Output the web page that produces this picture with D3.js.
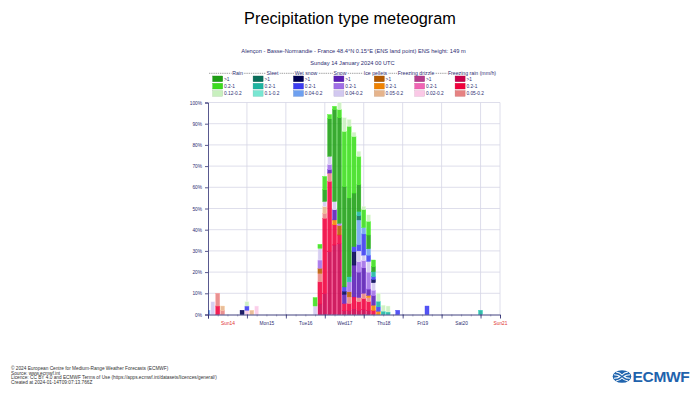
<!DOCTYPE html>
<html><head><meta charset="utf-8">
<script src="https://cdn.jsdelivr.net/npm/d3@7"></script>
<style>body{margin:0;background:#fff}svg{display:block}text{font-family:"Liberation Sans",Arial,sans-serif}</style>
</head><body><svg id="c" width="700" height="400"></svg>
<script>
// ---- data ----
const hours = [0,3,6,9,21,24,27,30,66,69,72,75,78,81,84,87,90,93,96,99,102,105,108,111,117,135,168];
const dayLabels = ["Sun14","Mon15","Tue16","Wed17","Thu18","Fri19","Sat20","Sun21"];
const yTicks = [0,10,20,30,40,50,60,70,80,90,100];
const typeNames = ["Rain","Sleet","Wet snow","Snow","Ice pellets","Freezing drizzle","Freezing rain (mm/h)"];
const classLabels = [[">1","0.2-1","0.12-0.2"],[">1","0.2-1","0.1-0.2"],[">1","0.2-1","0.04-0.2"],[">1","0.2-1","0.04-0.2"],[">1","0.2-1","0.05-0.2"],[">1","0.2-1","0.02-0.2"],[">1","0.2-1","0.05-0.2"]];
const typeColors = [
  ["#1e9e14","#3cdc1e","#c8f0be"],
  ["#0a6e5a","#1eb4a0","#78e6d2"],
  ["#000050","#3c3cf0","#6ea0f0"],
  ["#5a1eb4","#a06ee6","#d2c8f0"],
  ["#b45a00","#f08200","#e6b48c"],
  ["#b43c8c","#f064b4","#fac8e6"],
  ["#c8004b","#f0003c","#e68282"]
];
// probabilities (%) per class, aligned with hours
const frH = [0,0,0,0,0,0,0,0,0,5,10,29.6,32.8,33.6,2,2,2.8,2,2.5,2,0,0,0,0,0,0,0];
const frM = [0,0,4,0,0,0,0,0,0,10.4,35.4,33.2,9.5,3.9,3.2,3.2,5.5,4,5,4,2,0,0,0,0,0,0];
const frL = [0,0,6,2,0,0,0,0,0,4,2.4,3.9,0,0,0,3.1,0,2,2.5,2,0,0,0,0,0,0,0];
const fzH = [0,0,0,0,0,0,0,0,0,0,0,0,0,0,0,0,0,0,0,0,0,0,0,0,0,0,0];
const fzM = [0,0,0,0,0,0,0,0,0,0,0,0,0,0,0,0,0,0,0,0,0,0,0,0,0,0,0];
const fzL = [0,0,0,0,0,2,0,4,0,0,0,0,0,0,0,0,0,0,0,0,0,0,0,0,0,0,0];
const ipH = [0,0,0,0,0,0,0,0,0,2.4,0,0,0,4.5,0,2.4,0,0,0,0,0,0,0,0,0,0,0];
const ipM = [0,0,0,0,0,0,0,0,0,0,0,0,2.3,0,0,0,0,0,0,1,2.4,1.5,0,0,0,0,0];
const ipL = [0,0,0,2,0,0,2,0,0,0,3.1,0,0,0,0,0,0,0,0,0,0,0,0,0,0,0,0];
const snH = [0,0,0,0,0,0,0,0,0,0,0,1.6,4.8,0,4.3,0,15,12,12,3,4.6,0,0,0,0,0,0];
const snM = [0,0,0,0,0,0,0,0,0,3.9,0,2.4,0,1,0,4.7,0,5,3.5,8,2.5,0,0,0,0,0,0];
const snL = [0,6,0,0,0,0,0,0,4,5.5,2.4,3.9,3.9,0,0,0,0,5,2.5,5,3.5,0,0,0,0,0,0];
const wsH = [0,0,0,0,2,0,0,0,0,0,0,0,0,0,1.5,0,6.3,0,0,0,1.5,0,0,0,0,0,0];
const wsM = [0,0,0,0,0,2,0,0,0,0,0,0,0,0,2,0,2.4,3,10,3,1.3,2.1,0,0,2,4,0];
const wsL = [2,0,0,0,0,0,0,0,0,0,0,0,0,0,0,0,0,11.6,3,3,0,0,0,0,0,0,0];
const slH = [0,0,0,0,0,0,0,0,0,0,0,0,0,0,0,0,0,2,0,0,0,0,0,0,0,0,0];
const slM = [0,0,0,0,0,0,0,0,0,0,0,0,0,0,0,2.4,0,2,0,0,2.4,2.7,1.6,1.2,0,0,2];
const slL = [0,0,0,0,0,0,0,0,0,0,0,0,0,0,0,0,0,0,0,0,0,0,0,0,0,0,0];
const rnH = [0,0,0,0,0,0,0,0,0,0,5.5,17.7,43.4,49.8,47.4,37.2,25.3,12.6,0,6.5,2.3,0,0,0,0,0,0];
const rnM = [0,0,0,0,0,0,0,0,4,1.9,6.3,2,1.5,3.9,26,33.8,26.7,13.4,8.5,6.5,3.2,0,0,0,0,0,0];
const rnL = [0,0,0,0,0,2,0,0,0,0,0,0,0,3.3,6.4,3.2,2,2.4,1.5,3,0,3.7,2.8,2.8,0,0,0];

// stacking order bottom -> top
const seriesList = [
  ["frH",frH,6,0],["frM",frM,6,1],["frL",frL,6,2],
  ["fzH",fzH,5,0],["fzM",fzM,5,1],["fzL",fzL,5,2],
  ["ipH",ipH,4,0],["ipM",ipM,4,1],["ipL",ipL,4,2],
  ["snH",snH,3,0],["snM",snM,3,1],["snL",snL,3,2],
  ["wsH",wsH,2,0],["wsM",wsM,2,1],["wsL",wsL,2,2],
  ["slH",slH,1,0],["slM",slM,1,1],["slL",slL,1,2],
  ["rnH",rnH,0,0],["rnM",rnM,0,1],["rnL",rnL,0,2]
];
const keys = seriesList.map(s=>s[0]);
const colorOf = {}; seriesList.forEach(s=>colorOf[s[0]] = typeColors[s[2]][s[3]]);
const table = hours.map((h,i)=>{const o={h}; seriesList.forEach(s=>o[s[0]]=s[1][i]); return o;});

// ---- drawing ----
const navy = "#2e2e72";
const svg = d3.select("#c");
const x = d3.scaleLinear().domain([0,180]).range([208,500]);
const y = d3.scaleLinear().domain([0,100]).range([314.5,102.5]);

svg.append("text").attr("x",350).attr("y",24).attr("text-anchor","middle")
  .attr("font-size",16.3).attr("fill","#000").text("Precipitation type meteogram");
svg.append("text").attr("x",353.5).attr("y",53).attr("text-anchor","middle")
  .attr("font-size",5.7).attr("fill",navy)
  .text("Alençon - Basse-Normandie - France 48.4°N 0.15°E (ENS land point) ENS height: 149 m");
svg.append("text").attr("x",352.5).attr("y",65).attr("text-anchor","middle")
  .attr("font-size",5.7).attr("fill",navy).text("Sunday 14 January 2024 00 UTC");

// legend
const lg = svg.append("g");
typeNames.forEach((n,i)=>{
  const x0 = 212.7 + i*40.4;
  for(let r=0;r<3;r++){
    const y0 = 76 + r*7.3;
    lg.append("rect").attr("x",x0).attr("y",y0).attr("width",10).attr("height",5.7)
      .attr("fill",typeColors[i][r]).attr("stroke",d3.color(typeColors[i][r]).darker(0.4)).attr("stroke-width",0.4);
    lg.append("text").attr("x",x0+11.3).attr("y",y0+4.5).attr("font-size",4.8).attr("fill",navy).text(classLabels[i][r]);
  }
});
lg.append("line").attr("x1",209).attr("x2",497).attr("y1",73.3).attr("y2",73.3)
  .attr("stroke","#444").attr("stroke-width",0.5).attr("stroke-dasharray","1.4,0.8");
const headerCx = [237.5,272.5,306,340,375.5,416,472];
typeNames.forEach((n,i)=>{
  const t = lg.append("text").attr("x",headerCx[i]).attr("y",75).attr("text-anchor","middle")
    .attr("font-size",5.2).attr("fill",navy).text(n);
  const bb = t.node().getBBox();
  lg.insert("rect",function(){return t.node();}).attr("x",bb.x-0.6).attr("y",72).attr("width",bb.width+1.2).attr("height",2.5).attr("fill","#fff");
});

// grid
const grid = svg.append("g").attr("stroke","#d6d6e6").attr("stroke-width",0.8);
yTicks.filter(v=>v>0).forEach(v=>grid.append("line").attr("x1",208).attr("x2",500).attr("y1",y(v)).attr("y2",y(v)));
d3.range(24,181,24).forEach(h=>grid.append("line").attr("x1",x(h)).attr("x2",x(h)).attr("y1",y(100)).attr("y2",y(0)));
grid.append("line").attr("x1",x(180)).attr("x2",x(180)).attr("y1",y(100)).attr("y2",y(0));

// bars
svg.append("clipPath").attr("id","pc").append("rect").attr("x",208).attr("y",95).attr("width",292).attr("height",225);
const stacked = d3.stack().keys(keys)(table);
const bars = svg.append("g").attr("clip-path","url(#pc)");
stacked.forEach(layer=>{
  const col = colorOf[layer.key];
  bars.append("g").selectAll("rect").data(layer.filter(d=>d[1]-d[0]>0)).join("rect")
    .attr("x",d=>x(d.data.h)-2).attr("width",4)
    .attr("y",d=>y(d[1])).attr("height",d=>y(d[0])-y(d[1]))
    .attr("fill",col).attr("fill-opacity",0.88)
    .attr("stroke",d3.color(col).brighter(0.5)).attr("stroke-width",0.4);
});

// axes
const ya = svg.append("g").attr("transform","translate(208,0)")
  .call(d3.axisLeft(y).tickValues(yTicks).tickFormat(d=>d+"%").tickSize(3).tickPadding(3));
ya.selectAll("text").attr("font-size",4.8).attr("fill",navy).attr("font-family","Liberation Sans, Arial, sans-serif");
ya.selectAll("line,path").attr("stroke",navy).attr("stroke-width",0.8);

const xm = svg.append("g").attr("transform","translate(0,314.5)")
  .call(d3.axisBottom(x).tickValues(d3.range(0,181,6)).tickSize(2).tickFormat(""));
xm.selectAll("line").attr("stroke","#8888aa").attr("stroke-width",0.6);
xm.select("path").remove();
const xa = svg.append("g").attr("transform","translate(0,314.5)")
  .call(d3.axisBottom(x).tickValues(d3.range(0,180,24)).tickSize(4).tickFormat(""));
xa.selectAll("line").attr("stroke",navy).attr("stroke-width",0.8);
xa.select("path").attr("stroke",navy).attr("stroke-width",0.9);
const xl = svg.append("g").attr("transform","translate(0,314.5)")
  .call(d3.axisBottom(x).tickValues(dayLabels.map((d,i)=>i*24+12)).tickSize(0).tickPadding(7)
    .tickFormat((d,i)=>dayLabels[i]));
xl.select("path").remove();
xl.selectAll("text").attr("font-size",4.8).attr("font-family","Liberation Sans, Arial, sans-serif")
  .attr("fill",(d,i)=>dayLabels[i].startsWith("Sun")?"#e03030":navy);

// footer
const foot = ["© 2024 European Centre for Medium-Range Weather Forecasts (ECMWF)","Source: www.ecmwf.int",
  "Licence: CC BY 4.0 and ECMWF Terms of Use (https://apps.ecmwf.int/datasets/licences/general/)",
  "Created at 2024-01-14T09:07:13.766Z"];
foot.forEach((t,i)=>svg.append("text").attr("x",11).attr("y",370+i*4.5).attr("font-size",4.75).attr("fill","#333").text(t));

// logo
const blue = "#1f63ad";
const lo = svg.append("g");
lo.append("ellipse").attr("cx",622).attr("cy",376.5).attr("rx",9.3).attr("ry",6.3).attr("fill",blue);
lo.append("path").attr("d","M614,374.7 Q618,374.7 620,376.5 Q618,378.3 614,378.3 M630,374.7 Q626,374.7 624,376.5 Q626,378.3 630,378.3 M616,372 Q620,372.5 622,375 Q624,372.5 628,372 M616,381 Q620,380.5 622,378 Q624,380.5 628,381")
  .attr("fill","none").attr("stroke","#fff").attr("stroke-width",1.1);
lo.append("text").attr("x",632.5).attr("y",382.3).attr("font-size",15.5).attr("font-weight","bold")
  .attr("fill",blue).attr("letter-spacing",-0.3).text("ECMWF");
</script></body></html>
